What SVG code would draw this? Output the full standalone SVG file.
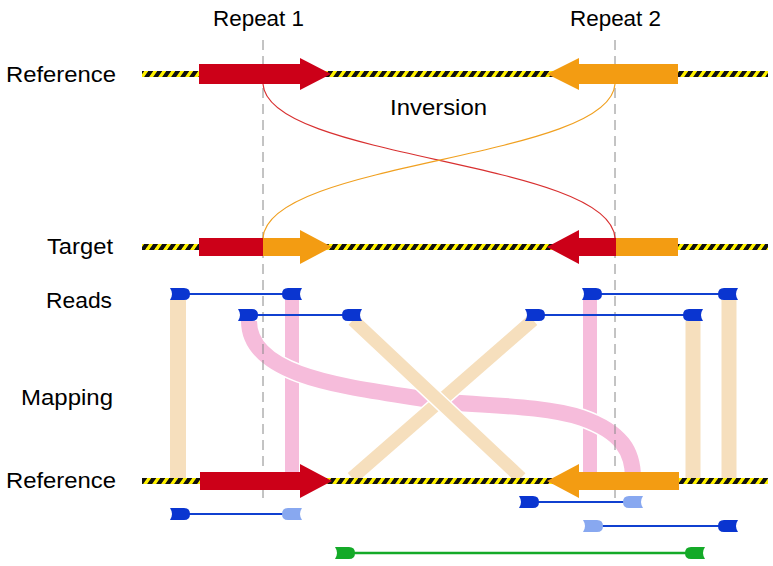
<svg xmlns="http://www.w3.org/2000/svg" width="773" height="566" viewBox="0 0 773 566">
<style>
text{font-family:"Liberation Sans",Arial,sans-serif;font-size:22px;fill:#000}
.band{fill:none;stroke-linecap:butt}
.beige{stroke:#f6dfbd}
.pink{stroke:#f6bcdb}
.wb{stroke:#fff}
.read{stroke:#1040d0;stroke-width:2}
.rd{fill:#0a35d0}
.lb{fill:#88a8f0}
.vd{stroke:#888;stroke-width:1;stroke-dasharray:10 6}
</style>
<defs>
<pattern id="hz" width="9" height="6" patternUnits="userSpaceOnUse" patternTransform="skewX(-35)">
<rect width="9" height="6" fill="#fff200"/>
<rect width="5" height="6" fill="#111"/>
</pattern>
<path id="mL" d="M0 -6 L14 -6 Q20 -6 20 0 Q20 6 14 6 L0 6 Q4 0 0 -6 Z"/>
<path id="mR" d="M20 -6 L6 -6 Q0 -6 0 0 Q0 6 6 6 L20 6 Q16 0 20 -6 Z"/>
</defs>
<rect width="773" height="566" fill="#fff"/>

<g id="labels">
<text x="213" y="26" textLength="91" lengthAdjust="spacingAndGlyphs">Repeat 1</text>
<text x="570" y="26" textLength="91" lengthAdjust="spacingAndGlyphs">Repeat 2</text>
<text x="6" y="82" textLength="110" lengthAdjust="spacingAndGlyphs">Reference</text>
<text x="390" y="115" textLength="97" lengthAdjust="spacingAndGlyphs">Inversion</text>
<text x="47" y="254" textLength="66" lengthAdjust="spacingAndGlyphs">Target</text>
<text x="46" y="308" textLength="66" lengthAdjust="spacingAndGlyphs">Reads</text>
<text x="21" y="405" textLength="92" lengthAdjust="spacingAndGlyphs">Mapping</text>
<text x="6" y="488" textLength="110" lengthAdjust="spacingAndGlyphs">Reference</text>
</g>

<g id="mapping">
<path class="band beige" stroke-width="16" d="M178 300 V478"/>
<path class="band pink" stroke-width="14" d="M292 300 V478"/>
<path class="band pink" stroke-width="14" d="M590 300 V478"/>
<path class="band beige" stroke-width="15" d="M693 321 V478"/>
<path class="band beige" stroke-width="15" d="M729 300 V478"/>
<path class="band wb" stroke-width="19" d="M249 321 C249 378 350 387 430 400 C470 406 540 404 582 418 C622 432 633 452 633 478"/>
<path class="band pink" stroke-width="16" d="M249 321 C249 378 350 387 430 400 C470 406 540 404 582 418 C622 432 633 452 633 478"/>
<path class="band wb" stroke-width="16" d="M533 320 L352 478"/>
<path class="band beige" stroke-width="13" d="M533 320 L352 478"/>
<path class="band wb" stroke-width="16" d="M353 320 L521 478"/>
<path class="band beige" stroke-width="13" d="M353 320 L521 478"/>
</g>

<g id="guides">
<line class="vd" x1="263" y1="40" x2="263" y2="504"/>
<line class="vd" x1="615" y1="40" x2="615" y2="500"/>
</g>

<g id="reference-top">
<rect x="142" y="71" width="626" height="6" fill="url(#hz)"/>
<path fill="#cc0018" d="M199 64 H300 V58 L331 74 L300 90 V84 H199 Z"/>
<path fill="#f39c12" d="M678 64 H579 V58 L547 74 L579 90 V84 H678 Z"/>
</g>

<g id="target">
<rect x="142" y="244" width="626" height="6" fill="url(#hz)"/>
<rect x="199" y="238" width="64" height="18" fill="#cc0018"/>
<path fill="#f39c12" d="M263 238 H300 V230 L332 247 L300 264 V256 H263 Z"/>
<path fill="#cc0018" d="M616 238 H579 V230 L547 247 L579 264 V256 H616 Z"/>
<rect x="616" y="238" width="62" height="18" fill="#f39c12"/>
</g>

<g id="connectors">
<path d="M263 84 C268 160 610 160 615 238" fill="none" stroke="#d83030" stroke-width="1.2"/>
<path d="M615 84 C610 160 268 160 263 238" fill="none" stroke="#f0a020" stroke-width="1.2"/>
</g>

<g id="reference-bottom">
<rect x="142" y="478" width="626" height="6" fill="url(#hz)"/>
<path fill="#cc0018" d="M200 472 H300 V464 L332 481 L300 498 V490 H200 Z"/>
<path fill="#f39c12" d="M679 472 H579 V464 L547 481 L579 498 V490 H679 Z"/>
</g>

<g id="reads">
<line class="read" x1="188" y1="294" x2="284" y2="294"/>
<use href="#mL" x="170" y="294" class="rd"/>
<use href="#mR" x="282" y="294" class="rd"/>
<line class="read" x1="256" y1="315" x2="344" y2="315"/>
<use href="#mL" x="238" y="315" class="rd"/>
<use href="#mR" x="342" y="315" class="rd"/>
<line class="read" x1="600" y1="294" x2="720" y2="294"/>
<use href="#mL" x="582" y="294" class="rd"/>
<use href="#mR" x="718" y="294" class="rd"/>
<line class="read" x1="543" y1="315" x2="685" y2="315"/>
<use href="#mL" x="525" y="315" class="rd"/>
<use href="#mR" x="683" y="315" class="rd"/>
</g>

<g id="reads-bottom">
<line class="read" x1="188" y1="514" x2="284" y2="514"/>
<use href="#mL" x="170" y="514" class="rd"/>
<use href="#mR" x="282" y="514" class="lb"/>
<line class="read" x1="537" y1="502" x2="625" y2="502"/>
<use href="#mL" x="519" y="502" class="rd"/>
<use href="#mR" x="623" y="502" class="lb"/>
<line class="read" x1="600" y1="526" x2="720" y2="526"/>
<use href="#mL" x="583" y="526" class="lb"/>
<use href="#mR" x="718" y="526" class="rd"/>
</g>

<g id="span">
<line x1="352" y1="553" x2="687" y2="553" stroke="#14aa28" stroke-width="2.5"/>
<use href="#mL" x="335" y="553" fill="#14aa28"/>
<use href="#mR" x="685" y="553" fill="#14aa28"/>
</g>
</svg>
